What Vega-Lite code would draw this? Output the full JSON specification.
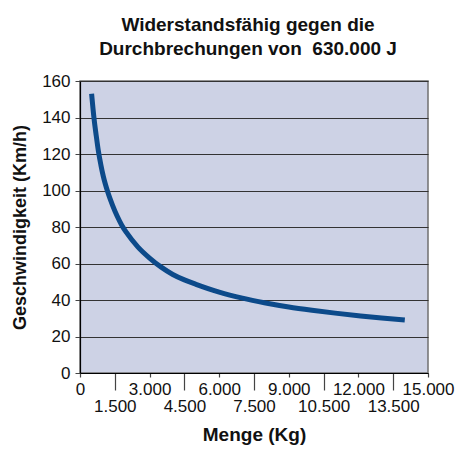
{
  "$schema": "https://vega.github.io/schema/vega-lite/v6.json",
  "autosize": "none",
  "width": 348,
  "height": 292,
  "padding": {"left": 80, "top": 81, "right": 28, "bottom": 82},
  "background": "white",
  "config": {
    "locale": {"number": {"decimal": ",", "thousands": ".", "grouping": [3], "currency": ["", " €"]}},
    "font": "Liberation Sans",
    "view": {"fill": "#cdd2e5", "stroke": "#707070", "strokeWidth": 1.5}
  },
  "title": {
    "text": ["Widerstandsfähig gegen die", "Durchbrechungen von \u00a0630.000 J"],
    "font": "Liberation Sans",
    "fontSize": 19,
    "fontWeight": "bold",
    "color": "#111",
    "anchor": "middle",
    "dx": -6,
    "offset": 13,
    "lineHeight": 24
  },
  "data": {
    "values": [
      {"m": 500, "v": 153},
      {"m": 600, "v": 140},
      {"m": 700, "v": 130},
      {"m": 800, "v": 121},
      {"m": 900, "v": 114},
      {"m": 1000, "v": 108},
      {"m": 1200, "v": 99},
      {"m": 1400, "v": 92},
      {"m": 1600, "v": 86},
      {"m": 1800, "v": 81},
      {"m": 2000, "v": 77},
      {"m": 2500, "v": 69},
      {"m": 3000, "v": 63},
      {"m": 3500, "v": 58},
      {"m": 4000, "v": 54},
      {"m": 4500, "v": 51},
      {"m": 5000, "v": 48.6},
      {"m": 6000, "v": 44.3},
      {"m": 7000, "v": 41},
      {"m": 8000, "v": 38.4},
      {"m": 9000, "v": 36.2},
      {"m": 10000, "v": 34.4},
      {"m": 11000, "v": 32.8},
      {"m": 12000, "v": 31.4},
      {"m": 13000, "v": 30.1},
      {"m": 14000, "v": 29.0}
    ]
  },
  "mark": {"type": "line", "color": "#0c4a8a", "strokeWidth": 5, "interpolate": "monotone", "strokeCap": "butt"},
  "encoding": {
    "x": {
      "field": "m",
      "type": "quantitative",
      "scale": {"domain": [0, 15000], "nice": false},
      "axis": {
        "title": "Menge (Kg)",
        "titleFontSize": 19,
        "titleFontWeight": "bold",
        "titleColor": "#111",
        "titlePadding": 11,
        "values": [0, 1500, 3000, 4500, 6000, 7500, 9000, 10500, 12000, 13500, 15000],
        "format": ",d",
        "grid": false,
        "domainColor": "#000",
        "domainWidth": 1.2,
        "tickColor": "#444",
        "tickWidth": 1.2,
        "tickSize": {"condition": {"test": "datum.value % 3000 != 0", "value": 17}, "value": 4},
        "labelPadding": {"condition": {"test": "datum.value % 3000 != 0", "value": 8}, "value": 4},
        "labelFontSize": 17,
        "labelColor": "#111",
        "labelFlush": false,
        "labelOverlap": false
      }
    },
    "y": {
      "field": "v",
      "type": "quantitative",
      "scale": {"domain": [0, 160], "nice": false},
      "axis": {
        "title": "Geschwindigkeit  (Km/h)",
        "titleFontSize": 18,
        "titleFontWeight": "bold",
        "titleColor": "#111",
        "titlePadding": 12,
        "values": [0, 20, 40, 60, 80, 100, 120, 140, 160],
        "grid": true,
        "gridColor": "#333",
        "gridWidth": 1.2,
        "domainColor": "#000",
        "domainWidth": 1.2,
        "tickColor": "#444",
        "tickSize": 5,
        "labelPadding": 5,
        "labelFontSize": 17,
        "labelColor": "#111"
      }
    }
  }
}
